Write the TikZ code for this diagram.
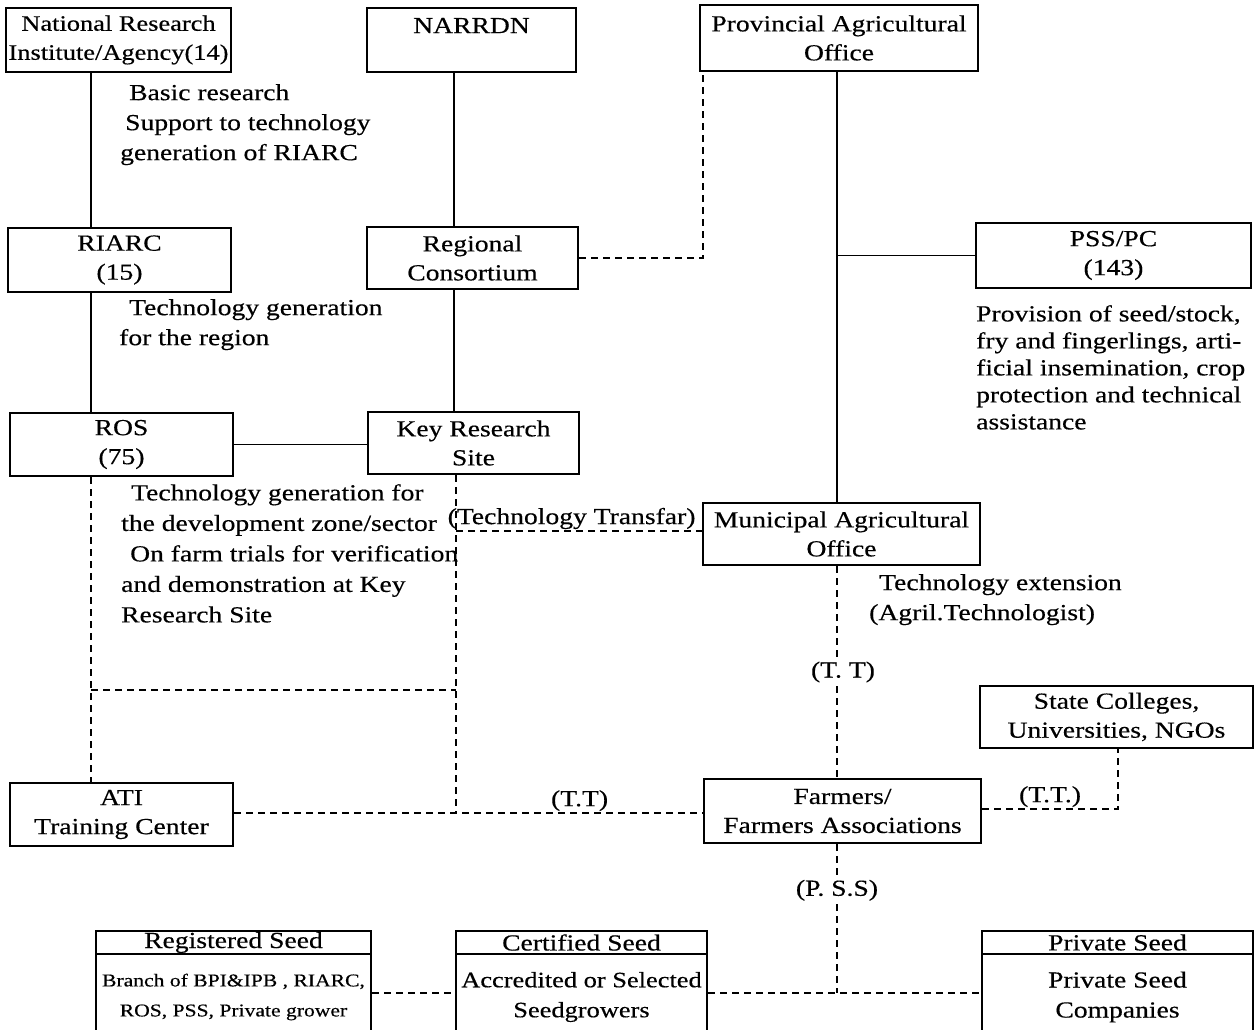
\documentclass[tikz,border=0pt]{standalone}
\usepackage{fontspec}
\setmainfont{Liberation Serif}[FakeStretch=1.2, FakeBold=0.4]
\newcommand\fsz[2]{\fontsize{#1}{#2}\selectfont}
\begin{document}
\begin{tikzpicture}[x=1pt,y=-1pt,
  box/.style={draw, line width=2.2pt, align=center, inner sep=0pt, font={\fsz{23}{29}}},
  link/.style={line width=2.2pt},
  dlink/.style={line width=1.9pt, dash pattern=on 7pt off 5pt},
  note/.style={align=left, inner sep=0pt, anchor=north west, font={\fsz{23}{30}}},
  lab/.style={inner sep=1pt, font={\fsz{23}{29}}}]
\useasboundingbox (0,0) rectangle (1259,1030);
\fill[white] (0,0) rectangle (1259,1030);
\clip (0,0) rectangle (1259,1030);

% boxes
\node[box, font={\fsz{22}{29}}, minimum width=225, minimum height=64] (nr) at (118.5,40) {National Research\\Institute/Agency(14)};
\node[box, minimum width=209, minimum height=64] (narrdn) at (471.5,40) {NARRDN\\\mbox{}};
\node[box, minimum width=278, minimum height=66] (prov) at (839,38) {Provincial Agricultural\\Office};
\node[box, minimum width=223, minimum height=64] (riarc) at (119.5,260) {RIARC\\(15)};
\node[box, minimum width=211, minimum height=62] (rc) at (472.5,258) {Regional\\Consortium};
\node[box, minimum width=275, minimum height=65] (pss) at (1113.5,255.5) {PSS/PC\\(143)};
\node[box, minimum width=223, minimum height=63] (ros) at (121.5,444.5) {ROS\\(75)};
\node[box, minimum width=211, minimum height=62] (krs) at (473.5,443) {Key Research\\Site};
\node[box, minimum width=277, minimum height=62] (mao) at (841.5,534) {Municipal Agricultural\\Office};
\node[box, minimum width=273, minimum height=62] (scu) at (1116.5,717) {State Colleges,\\Universities, NGOs};
\node[box, minimum width=223, minimum height=63] (ati) at (121.5,814.5) {ATI\\Training Center};
\node[box, minimum width=277, minimum height=64] (farm) at (842.5,811) {Farmers/\\Farmers Associations};

% seed boxes
\node[box, minimum width=275, minimum height=23] (regh) at (233.5,942.5) {Registered Seed};
\node[box, font={\fsz{18}{30}}, minimum width=275, minimum height=86] (regb) at (233.5,997) {Branch of BPI\&IPB , RIARC,\\ROS, PSS, Private grower};
\node[box, minimum width=251, minimum height=23] (certh) at (581.5,942.5) {Certified Seed};
\node[box, font={\fsz{22}{30}}, minimum width=251, minimum height=86] (certb) at (581.5,997) {Accredited or Selected\\Seedgrowers};
\node[box, minimum width=271, minimum height=23] (privh) at (1117.5,942.5) {Private Seed};
\node[box, font={\fsz{23}{30}}, minimum width=271, minimum height=86] (privb) at (1117.5,997) {Private Seed\\Companies};

% reference lines
\coordinate (cA) at (91,0);
\coordinate (cB) at (454,0);
\coordinate (cC) at (837,0);
\coordinate (cD) at (703,0);
\coordinate (cE) at (1118,0);
\coordinate (cF) at (456,0);
\coordinate (rH) at (0,690);
\coordinate (rTT) at (0,531);
\coordinate (rAT) at (0,813);
\coordinate (rFS) at (0,809);
\coordinate (rB) at (0,993);

% solid connectors
\draw[link] (nr.south -| cA) -- (riarc.north -| cA);
\draw[link] (riarc.south -| cA) -- (ros.north -| cA);
\draw[link] (narrdn.south -| cB) -- (rc.north -| cB);
\draw[link] (rc.south -| cB) -- (krs.north -| cB);
\draw[link] (prov.south -| cC) -- (mao.north -| cC);
\draw[link, line width=1.6pt] (pss.west -| cC) -- (pss.west);
\draw[link, line width=1.6pt] (ros.east) -- (ros.east -| krs.west);

% dashed connectors
\draw[dlink] (rc.east) -| (prov.south -| cD);
\draw[dlink] (ros.south -| cA) -- (ati.north -| cA);
\draw[dlink] (krs.south -| cF) -- (cF |- rAT);
\draw[dlink] (cA |- rH) -- (cF |- rH);
\draw[dlink] (cF |- rTT) -- node[pos=.47, above, lab]{(Technology Transfar)} (mao.west |- rTT);
\draw[dlink] (ati.east |- rAT) -- node[pos=.737, above, lab]{(T.T)} (farm.west |- rAT);
\draw[dlink] (mao.south -| cC) -- node[midway, lab, fill=white, xshift=6pt]{(T. T)} (farm.north -| cC);
\draw[dlink] (farm.east |- rFS) -| node[pos=.25, above, lab]{(T.T.)} (scu.south -| cE);
\draw[dlink] (farm.south -| cC) -- node[pos=.31, lab, fill=white]{(P. S.S)} (cC |- rB);
\draw[dlink] (regb.east |- rB) -- (certb.west |- rB);
\draw[dlink] (certb.east |- rB) -- (privb.west |- rB);

% annotations
\node[note] (n1) at (120,84) {\hspace*{9pt}Basic research\\\hspace*{5pt}Support to technology\\generation of RIARC};
\node[note] (n2) at (119,299) {\hspace*{10pt}Technology generation\\for the region};
\node[note, font={\fsz{23}{30.5}}] (n3) at (121,484) {\hspace*{10pt}Technology generation for\\the development zone/sector\\\hspace*{9pt}On farm trials for verification\\and demonstration at Key\\Research Site};
\node[note] (n4) at (869,574) {\hspace*{10pt}Technology extension\\(Agril.Technologist)};
\node[note, font={\fsz{23}{27}}] (n5) at (976,305) {Provision of seed/stock,\\fry and fingerlings, arti-\\ficial insemination, crop\\protection and technical\\assistance};
\end{tikzpicture}
\end{document}
